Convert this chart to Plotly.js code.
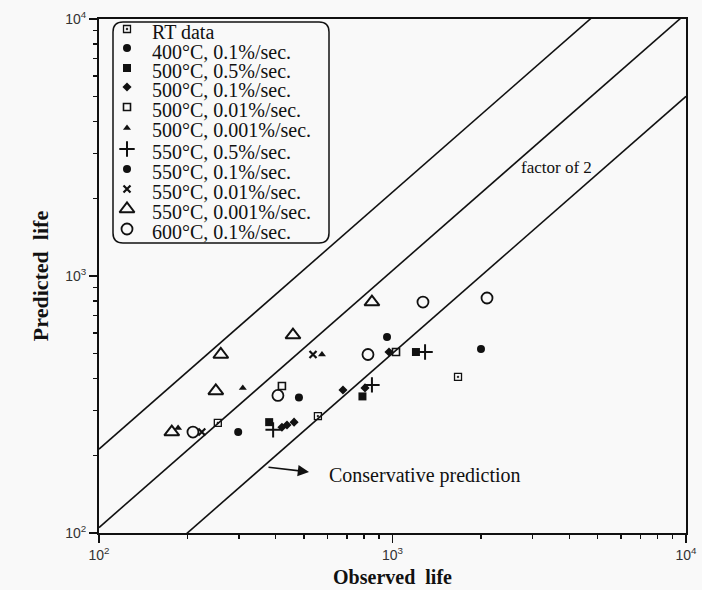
<!DOCTYPE html>
<html>
<head>
<meta charset="utf-8">
<script src="https://cdn.plot.ly/plotly-3.0.1.min.js"></script>
<style>
  html, body { margin: 0; padding: 0; background: #f9f9f9; }
  #chart { width: 702px; height: 590px; }
</style>
</head>
<body>
<div id="chart"></div>
<script>
// ---- Data (observed life, predicted life) ----
const seriesNames = [
  "RT data",
  "400°C, 0.1%/sec.",
  "500°C, 0.5%/sec.",
  "500°C, 0.1%/sec.",
  "500°C, 0.01%/sec.",
  "500°C, 0.001%/sec.",
  "550°C, 0.5%/sec.",
  "550°C, 0.1%/sec.",
  "550°C, 0.01%/sec.",
  "550°C, 0.001%/sec.",
  "600°C, 0.1%/sec."
];

const rtObs = [254, 557, 1672];
const rtPred = [268, 285, 405];

const c400_01_obs = [298, 480];
const c400_01_pred = [247, 337];

const c500_05_obs = [380, 790, 1202];
const c500_05_pred = [270, 340, 506];

const c500_01_obs = [420, 437, 462, 678, 806, 973];
const c500_01_pred = [258, 263, 270, 360, 367, 506];

const c500_001_obs = [420, 1028];
const c500_001_pred = [373, 506];

const c500_0001_obs = [186, 309, 575];
const c500_0001_pred = [256, 367, 495];

const c550_05_obs = [392, 851, 1291];
const c550_05_pred = [252, 377, 506];

const c550_01_obs = [958, 2002];
const c550_01_pred = [579, 520];

const c550_001_obs = [224, 536];
const c550_001_pred = [247, 495];

const c550_0001_obs = [177, 250, 260, 458, 851];
const c550_0001_pred = [247, 357, 495, 589, 792];

const c600_01_obs = [209, 407, 825, 1270, 2099];
const c600_01_pred = [247, 343, 495, 792, 821];

// reference lines: predicted = factor * observed (as drawn in the figure)
const refLineX = [100, 10000];
const refFactors = [2.12, 1.05, 0.5];

// tick labels
const majorTickVals = [100, 1000, 10000];
const majorTickText = ["10<sup>2</sup>", "10<sup>3</sup>", "10<sup>4</sup>"];
const minorTickVals = [200, 300, 400, 500, 600, 700, 800, 900,
                       2000, 3000, 4000, 5000, 6000, 7000, 8000, 9000];

// ---- Geometry helpers ----
const L = 99, R = 16, T = 19, B = 57;
const W = 702, H = 590;
const pw = W - L - R, ph = H - T - B;
const px2x = p => (p - L) / pw;
const py2y = p => (H - B - p) / ph;

// legend layout (pixel rows inside the legend box)
const legendMarkerRows = [29, 48, 68, 87, 107, 128, 149, 169, 189, 209, 229];
const legendTextRows   = [32, 52, 71, 90, 110, 130, 152, 172, 192, 212, 232];
const legendMarkerPx = 127, legendTextPx = 150;

// ---- Build traces ----
const ink = "#111111";
const styles = [
  {symbol: "square-open-dot", size: 7, line: 1.3},
  {symbol: "circle", size: 8, line: 0},
  {symbol: "square", size: 8, line: 0},
  {symbol: "diamond", size: 7, line: 0},
  {symbol: "square-open", size: 7, line: 1.6},
  {symbol: "triangle-up", size: 7, line: 0},
  {symbol: "cross-thin-open", size: 11, line: 2},
  {symbol: "circle", size: 8, line: 0},
  {symbol: "x-thin-open", size: 7, line: 2.2},
  {symbol: "triangle-up-open", size: 13, line: 2},
  {symbol: "circle-open", size: 11, line: 1.8}
];
const xs = [rtObs, c400_01_obs, c500_05_obs, c500_01_obs, c500_001_obs, c500_0001_obs,
            c550_05_obs, c550_01_obs, c550_001_obs, c550_0001_obs, c600_01_obs];
const ys = [rtPred, c400_01_pred, c500_05_pred, c500_01_pred, c500_001_pred, c500_0001_pred,
            c550_05_pred, c550_01_pred, c550_001_pred, c550_0001_pred, c600_01_pred];

const traces = [];
refFactors.forEach(f => {
  traces.push({
    x: refLineX, y: refLineX.map(v => v * f),
    mode: "lines", type: "scatter", showlegend: false, hoverinfo: "skip",
    line: {color: ink, width: 1.6}
  });
});
seriesNames.forEach((name, i) => {
  const s = styles[i];
  const mk = {symbol: s.symbol, size: s.size, color: ink, line: {color: ink, width: s.line}};
  traces.push({
    x: xs[i], y: ys[i], name: name, type: "scatter", mode: "markers",
    showlegend: false, marker: mk
  });
  // legend key symbol, drawn on an invisible overlay axis spanning the plot area
  traces.push({
    x: [px2x(legendMarkerPx)], y: [py2y(legendMarkerRows[i])], name: name,
    type: "scatter", mode: "markers", xaxis: "x2", yaxis: "y2",
    showlegend: false, cliponaxis: false, hoverinfo: "skip", marker: mk
  });
});

// rounded legend frame (paper coords)
const bx0 = px2x(113), bx1 = px2x(329), by0 = py2y(243), by1 = py2y(22);
const rx = 10 / pw, ry = 10 / ph;
const framePath =
  `M ${bx0 + rx},${by1} L ${bx1 - rx},${by1} Q ${bx1},${by1} ${bx1},${by1 - ry} ` +
  `L ${bx1},${by0 + ry} Q ${bx1},${by0} ${bx1 - rx},${by0} ` +
  `L ${bx0 + rx},${by0} Q ${bx0},${by0} ${bx0},${by0 + ry} ` +
  `L ${bx0},${by1 - ry} Q ${bx0},${by1} ${bx0 + rx},${by1} Z`;

const serif = "Liberation Serif, Times New Roman, serif";
const sans = "Liberation Sans, Arial, sans-serif";

const axisCommon = {
  type: "log",
  showgrid: false, zeroline: false,
  showline: true, linecolor: ink, linewidth: 2, mirror: true,
  ticks: "outside", ticklen: 8, tickwidth: 1.5, tickcolor: ink,
  tickvals: majorTickVals, ticktext: majorTickText,
  tickfont: {family: sans, size: 14, color: "#333"},
  minor: {tickvals: minorTickVals, ticks: "outside", ticklen: 4, tickwidth: 1.3, tickcolor: ink},
  range: [2, 4]
};

const annotations = seriesNames.map((name, i) => ({
  xref: "paper", yref: "paper", x: px2x(legendTextPx), y: py2y(legendTextRows[i]),
  xanchor: "left", yanchor: "middle", text: name, showarrow: false,
  font: {family: serif, size: 20, color: ink}
}));
annotations.push(
  {xref: "paper", yref: "paper", x: px2x(556), y: py2y(168), xanchor: "center", yanchor: "middle",
   text: "factor of 2", showarrow: false, font: {family: serif, size: 17, color: ink}},
  {xref: "paper", yref: "paper", x: px2x(425), y: py2y(475), xanchor: "center", yanchor: "middle",
   text: "Conservative prediction", showarrow: false, font: {family: serif, size: 20, color: ink}},
  {xref: "paper", yref: "paper", x: px2x(309), y: py2y(472), text: "",
   showarrow: true, arrowhead: 2, arrowsize: 1.4, arrowwidth: 1.6, arrowcolor: ink,
   axref: "pixel", ayref: "pixel", ax: -42, ay: -5}
);

const layout = {
  width: W, height: H,
  margin: {l: L, r: R, t: T, b: B, pad: 0},
  paper_bgcolor: "#f9f9f9", plot_bgcolor: "#f9f9f9",
  showlegend: false,
  xaxis: Object.assign({}, axisCommon, {
    title: {text: "<b>Observed&nbsp; life</b>", font: {family: serif, size: 20, color: ink}, standoff: 8}
  }),
  yaxis: Object.assign({}, axisCommon, {
    title: {text: "<b>Predicted&nbsp; life</b>", font: {family: serif, size: 22, color: ink}, standoff: 10}
  }),
  xaxis2: {domain: [0, 1], range: [0, 1], overlaying: "x", anchor: "y2", visible: false, fixedrange: true},
  yaxis2: {domain: [0, 1], range: [0, 1], overlaying: "y", anchor: "x2", visible: false, fixedrange: true},
  shapes: [{
    type: "path", xref: "paper", yref: "paper", path: framePath,
    line: {color: ink, width: 1.5}, fillcolor: "rgba(0,0,0,0)"
  }],
  annotations: annotations
};

Plotly.newPlot("chart", traces, layout, {displayModeBar: false, staticPlot: true});
</script>
</body>
</html>
